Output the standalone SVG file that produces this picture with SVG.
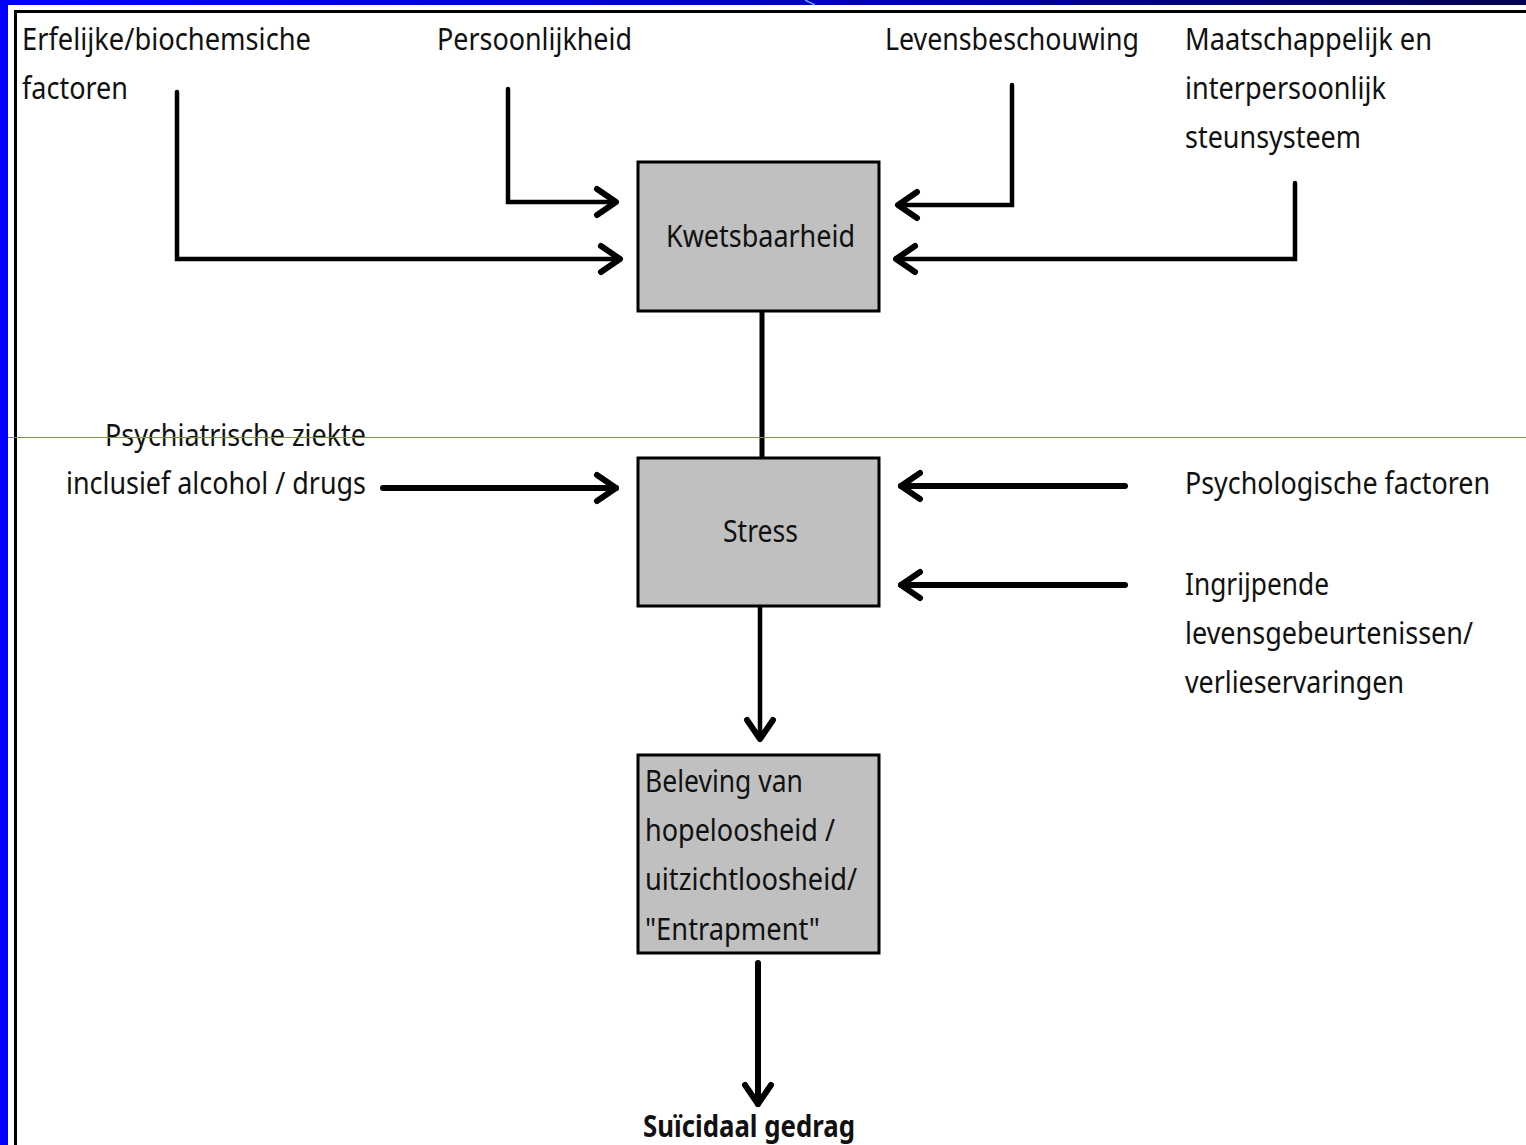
<svg xmlns="http://www.w3.org/2000/svg" width="1526" height="1145" viewBox="0 0 1526 1145">
<style>
.t{font-family:"Noto Sans","Liberation Sans",sans-serif;font-size:30px;fill:#111}
.b{font-weight:bold}
.box{fill:#c0c0c0;stroke:#000;stroke-width:3}
.c{fill:none;stroke:#000;stroke-width:4.5;stroke-linejoin:miter;stroke-linecap:round}
.w{stroke-width:6}
</style>
<defs>
<linearGradient id="bar" x1="0" y1="0" x2="1" y2="0">
<stop offset="0" stop-color="#0000ff"/>
<stop offset="0.45" stop-color="#0000c8"/>
<stop offset="0.75" stop-color="#000080"/>
<stop offset="1" stop-color="#000050"/>
</linearGradient>
<marker id="arr" markerUnits="userSpaceOnUse" viewBox="-30 -20 40 40" markerWidth="40" markerHeight="40" refX="0" refY="0" orient="auto" overflow="visible">
<polyline points="-19,-13 0,0 -19,13" fill="none" stroke="#000" stroke-width="6" stroke-linecap="round" stroke-linejoin="round"/>
</marker>
</defs>
<rect x="0" y="0" width="1526" height="1145" fill="#fff"/>
<rect x="0" y="0" width="1526" height="5" fill="url(#bar)"/>
<rect x="0" y="0" width="8" height="1145" fill="#0000ff"/>
<line x1="805" y1="0" x2="815" y2="5" stroke="#6aa0ff" stroke-width="1.5"/>
<path d="M15.5,1145 V11.5 H1526" fill="none" stroke="#000" stroke-width="3"/>

<g id="connectors">
<path class="c" d="M177,92 V259 H620" marker-end="url(#arr)"/>
<path class="c" d="M508,89 V202 H616" marker-end="url(#arr)"/>
<path class="c" d="M1012,85 V205 H898" marker-end="url(#arr)"/>
<path class="c" d="M1295,183 V259 H896" marker-end="url(#arr)"/>
<path class="c" d="M762,311 V458" style="stroke-width:5;stroke-linecap:butt"/>
<path class="c w" d="M383,488 H616" marker-end="url(#arr)"/>
<path class="c w" d="M1125,486 H901" marker-end="url(#arr)"/>
<path class="c w" d="M1125,585 H901" marker-end="url(#arr)"/>
<path class="c" d="M760,606 V739" marker-end="url(#arr)"/>
<path class="c w" d="M758,963 V1104" marker-end="url(#arr)"/>
</g>

<g id="kwetsbaarheid">
<rect class="box" x="638" y="162" width="241" height="149"/>
<text class="t" x="666" y="247" textLength="189" lengthAdjust="spacingAndGlyphs">Kwetsbaarheid</text>
</g>
<g id="stress">
<rect class="box" x="638" y="458" width="241" height="148"/>
<text class="t" x="723" y="542" textLength="75" lengthAdjust="spacingAndGlyphs">Stress</text>
</g>
<g id="beleving">
<rect class="box" x="638" y="755" width="241" height="198"/>
<text class="t" x="645" y="792" textLength="158" lengthAdjust="spacingAndGlyphs">Beleving van</text>
<text class="t" x="645" y="841" textLength="190" lengthAdjust="spacingAndGlyphs">hopeloosheid /</text>
<text class="t" x="645" y="890" textLength="212" lengthAdjust="spacingAndGlyphs">uitzichtloosheid/</text>
<text class="t" x="645" y="940" textLength="175" lengthAdjust="spacingAndGlyphs">"Entrapment"</text>
</g>
<g id="erfelijke">
<text class="t" x="22" y="50" textLength="289" lengthAdjust="spacingAndGlyphs">Erfelijke/biochemsiche</text>
<text class="t" x="22" y="99" textLength="106" lengthAdjust="spacingAndGlyphs">factoren</text>
</g>
<g id="persoonlijkheid">
<text class="t" x="437" y="50" textLength="195" lengthAdjust="spacingAndGlyphs">Persoonlijkheid</text>
</g>
<g id="levensbeschouwing">
<text class="t" x="885" y="50" textLength="254" lengthAdjust="spacingAndGlyphs">Levensbeschouwing</text>
</g>
<g id="maatschappelijk">
<text class="t" x="1185" y="50" textLength="247" lengthAdjust="spacingAndGlyphs">Maatschappelijk en</text>
<text class="t" x="1185" y="99" textLength="201" lengthAdjust="spacingAndGlyphs">interpersoonlijk</text>
<text class="t" x="1185" y="148" textLength="176" lengthAdjust="spacingAndGlyphs">steunsysteem</text>
</g>
<g id="psychiatrische">
<text class="t" x="105" y="446" textLength="261" lengthAdjust="spacingAndGlyphs">Psychiatrische ziekte</text>
<text class="t" x="66" y="494" textLength="300" lengthAdjust="spacingAndGlyphs">inclusief alcohol / drugs</text>
</g>
<g id="psychologische">
<text class="t" x="1185" y="494" textLength="305" lengthAdjust="spacingAndGlyphs">Psychologische factoren</text>
</g>
<g id="ingrijpende">
<text class="t" x="1185" y="595" textLength="144" lengthAdjust="spacingAndGlyphs">Ingrijpende</text>
<text class="t" x="1185" y="644" textLength="288" lengthAdjust="spacingAndGlyphs">levensgebeurtenissen/</text>
<text class="t" x="1185" y="693" textLength="219" lengthAdjust="spacingAndGlyphs">verlieservaringen</text>
</g>
<g id="suicidaal">
<text class="t b" x="643" y="1137" textLength="212" lengthAdjust="spacingAndGlyphs">Suïcidaal gedrag</text>
</g>
<line x1="8" y1="437.5" x2="1526" y2="437.5" stroke="#7878d0" stroke-width="1"/>
</svg>
